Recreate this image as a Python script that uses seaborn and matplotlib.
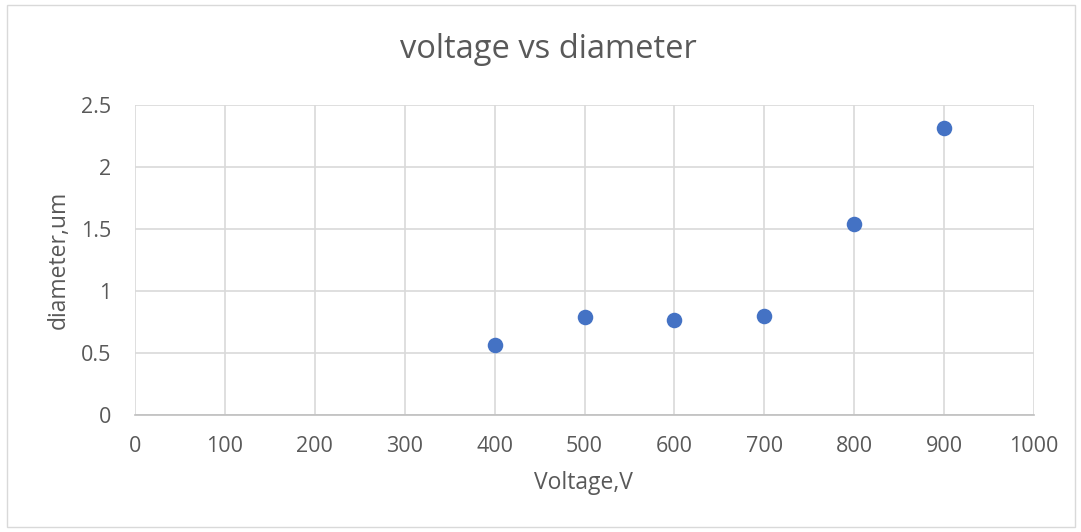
import matplotlib
matplotlib.use("Agg")
import matplotlib.pyplot as plt
import seaborn as sns
import pandas as pd
from matplotlib.patches import Rectangle

voltage = [400, 500, 600, 700, 800, 900]
diameter = [0.565, 0.788, 0.764, 0.798, 1.54, 2.317]
x_ticks = [0, 100, 200, 300, 400, 500, 600, 700, 800, 900, 1000]
y_ticks = [0, 0.5, 1, 1.5, 2, 2.5]
y_tick_labels = ["0", "0.5", "1", "1.5", "2", "2.5"]

sns.set_theme(style="white")
plt.rcParams['font.family'] = ['Open Sans', 'DejaVu Sans']

text_color = "#595959"
grid_color = "#d9d9d9"

fig = plt.figure(figsize=(10.81, 5.32), dpi=100)
fig.patches.append(Rectangle((7/1081, 5/532), 1068/1081, 522/532, transform=fig.transFigure,
                             fill=False, edgecolor="#d9d9d9", linewidth=1))
ax = fig.add_axes([135/1081, (532-415)/532, (1034-135)/1081, (415-105)/532])

df = pd.DataFrame({"Voltage": voltage, "diameter": diameter})
sns.scatterplot(data=df, x="Voltage", y="diameter", ax=ax, color="#4472C4", s=125,
                edgecolor="#4472C4", linewidth=0, zorder=3)

ax.set_xlim(0, 1000)
ax.set_ylim(0, 2.5)
ax.set_xticks(x_ticks)
ax.set_xticklabels([str(v) for v in x_ticks])
ax.set_yticks(y_ticks)
ax.set_yticklabels(y_tick_labels)
ax.grid(True, color=grid_color, linewidth=1.2)
ax.set_axisbelow(True)
for side in ["top", "right", "left"]:
    ax.spines[side].set_visible(False)
ax.spines["bottom"].set_color("#bfbfbf")
ax.spines["bottom"].set_linewidth(1.2)
ax.tick_params(axis="both", colors=text_color, labelsize=15.5, length=0)
ax.tick_params(axis="x", pad=15)
ax.tick_params(axis="y", pad=17)

ax.set_xlabel("Voltage,V", color=text_color, fontsize=16.5, va="center")
ax.set_ylabel("diameter,um", color=text_color, fontsize=16.5, va="center")
ax.xaxis.set_label_coords((583 - 135) / 899, -(483 - 415) / 310)
ax.yaxis.set_label_coords(-(135 - 59) / 899, 0.5)
fig.text(548/1081, 1 - 50/532, "voltage vs diameter", color=text_color, fontsize=23.5,
         ha="center", va="center")

fig.savefig("out.png", dpi=100)
